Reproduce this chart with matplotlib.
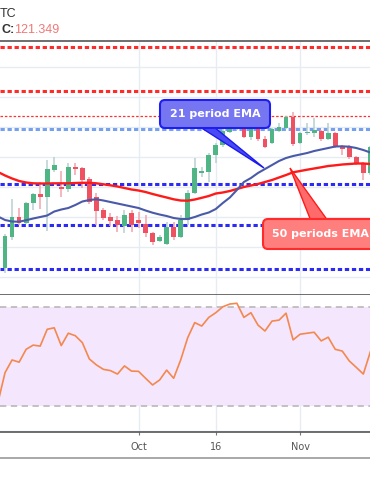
import matplotlib
matplotlib.use("Agg")
import matplotlib.pyplot as plt
import numpy as np
from matplotlib.patches import FancyBboxPatch, Polygon

# ---------------- data ----------------
opens = [117.300, 118.333, 119.000, 118.800, 119.467, 119.767, 119.667, 120.567, 120.000, 119.933,
         120.667, 120.633, 120.267, 119.667, 119.233, 119.000, 118.900, 118.700, 119.133, 118.900,
         118.767, 118.467, 118.200, 118.100, 118.667, 118.333, 118.900, 119.800, 120.467, 120.500,
         121.067, 121.400, 121.833, 121.967, 122.100, 121.667, 121.967, 121.600, 121.467, 121.867,
         121.967, 122.333, 121.467, 121.800, 121.800, 121.867, 121.600, 121.800, 121.333, 121.333,
         121.000, 120.767, 120.467]
highs = [118.433, 119.600, 119.300, 119.500, 119.800, 120.167, 120.900, 121.000, 120.533, 120.800,
         120.800, 120.667, 120.333, 119.800, 119.300, 119.133, 119.033, 119.233, 119.233, 119.167,
         119.067, 118.500, 118.400, 118.833, 118.833, 119.067, 119.900, 120.967, 120.667, 121.133,
         121.467, 121.967, 122.300, 122.300, 122.333, 122.033, 122.300, 121.700, 121.967, 122.133,
         122.367, 122.500, 121.833, 122.133, 122.300, 121.900, 122.133, 121.833, 121.400, 121.400,
         121.033, 120.833, 121.367]
lows = [117.133, 118.233, 118.733, 118.767, 119.233, 119.267, 118.533, 120.500, 119.667, 119.833,
        120.400, 119.967, 119.433, 118.733, 118.900, 118.700, 118.500, 118.467, 118.500, 118.633,
        118.333, 118.067, 118.167, 118.067, 118.233, 118.300, 118.733, 119.767, 120.333, 120.167,
        120.800, 121.333, 121.800, 121.900, 121.633, 121.567, 121.533, 121.300, 121.433, 121.833,
        121.933, 121.367, 121.433, 121.733, 121.667, 121.533, 121.567, 121.300, 121.067, 120.933,
        120.733, 120.233, 120.400]
closes = [118.367, 119.000, 118.800, 119.467, 119.767, 119.667, 120.600, 120.733, 119.933, 120.667,
          120.600, 120.233, 119.500, 119.200, 118.967, 118.867, 118.733, 119.067, 118.733, 118.800,
          118.467, 118.167, 118.333, 118.667, 118.333, 118.900, 119.800, 120.633, 120.533, 121.067,
          121.400, 121.867, 122.067, 122.100, 121.667, 121.967, 121.600, 121.333, 121.933, 122.000,
          122.333, 121.433, 121.800, 121.833, 121.900, 121.600, 121.800, 121.333, 121.267, 121.000,
          120.800, 120.467, 121.349]

# indicator values, bar index -1 .. 52
ema21 = [119.017, 118.900, 118.850, 118.843, 118.893, 118.950, 119.000, 119.050, 119.183, 119.250,
         119.300, 119.400, 119.517, 119.567, 119.590, 119.550, 119.500, 119.450, 119.400, 119.350,
         119.300, 119.217, 119.143, 119.083, 119.033, 118.967, 118.933, 118.933, 119.000, 119.083,
         119.150, 119.267, 119.467, 119.650, 119.900, 120.167, 120.300, 120.467, 120.600, 120.733,
         120.867, 120.967, 121.033, 121.083, 121.133, 121.200, 121.250, 121.300, 121.350, 121.357,
         121.343, 121.300, 121.233, 121.150]
ema50 = [120.500, 120.383, 120.283, 120.200, 120.150, 120.123, 120.117, 120.117, 120.123, 120.123,
         120.123, 120.133, 120.140, 120.140, 120.123, 120.090, 120.057, 120.017, 119.967, 119.917,
         119.883, 119.833, 119.767, 119.707, 119.650, 119.590, 119.550, 119.543, 119.583, 119.640,
         119.700, 119.783, 119.817, 119.867, 119.933, 120.000, 120.050, 120.100, 120.167, 120.233,
         120.317, 120.400, 120.490, 120.533, 120.577, 120.617, 120.657, 120.700, 120.723, 120.750,
         120.767, 120.783, 120.783, 120.767]
rsi = [31.6, 43.5, 48.6, 47.7, 52.9, 54.6, 54.2, 61.0, 61.6, 54.4,
       59.4, 58.4, 55.6, 49.0, 46.6, 44.8, 44.3, 42.9, 46.2, 44.1,
       44.0, 41.2, 38.5, 40.5, 44.5, 41.2, 48.6, 57.6, 63.7, 62.3,
       65.8, 67.7, 70.1, 71.2, 71.5, 65.8, 67.7, 62.7, 60.3, 64.3,
       64.7, 67.5, 56.7, 59.0, 59.4, 59.8, 56.3, 57.8, 52.9, 52.2,
       48.2, 45.6, 42.9, 51.9]
ind_index = list(range(-1, 53))

levels_red = [124.667, 123.2]
level_thin_red = 122.367
level_light_blue = 121.933
levels_blue = [120.1, 118.733, 117.267]
tick_pos = [19, 30, 42]
tick_labels = ["Oct", "16", "Nov"]
last_close_label = "121.349"

# ---------------- figure ----------------
W, H = 370, 493
fig = plt.figure(figsize=(W / 100, H / 100), dpi=100)
fig.patch.set_facecolor("white")

ax = fig.add_axes([0, 1 - 295 / H, 1, (295 - 41) / H])
rs = fig.add_axes([0, 1 - 432 / H, 1, (432 - 295) / H], sharex=ax)

xlim = (-0.72, 51.95)
ax.set_xlim(*xlim)
ax.set_ylim(116.4, 124.867)
rs.set_ylim(19.49, 74.85)

grid_c = "#e6ecf1"
for a in (ax, rs):
    a.set_facecolor("white")
    for s in ("left", "right"):
        a.spines[s].set_visible(False)
    a.tick_params(left=False, labelleft=False)
    for t in tick_pos:
        a.axvline(t, color=grid_c, lw=1.0, zorder=0)

for yv in range(117, 125):
    ax.axhline(yv, color=grid_c, lw=1.0, zorder=0)
for yv in (20, 40, 60):
    rs.axhline(yv, color=grid_c, lw=1.0, zorder=0)

ax.spines["top"].set_color("#555555")
ax.spines["top"].set_linewidth(1.2)
ax.spines["bottom"].set_color("#555555")
ax.spines["bottom"].set_linewidth(1.2)
ax.tick_params(bottom=False, labelbottom=False)
rs.spines["top"].set_visible(False)
rs.spines["bottom"].set_color("#555555")
rs.spines["bottom"].set_linewidth(1.2)

# levels
dash = (0, (1.4, 0.9))
for lv in levels_red:
    ax.axhline(lv, color="#ff2a2a", lw=2.2, ls=dash, zorder=2)
ax.axhline(level_thin_red, color="#ff3030", lw=0.9, ls=(0, (2, 1.5)), zorder=2)
ax.axhline(level_light_blue, color="#76a0ee", lw=2.2, ls=dash, zorder=2)
for lv in levels_blue:
    ax.axhline(lv, color="#2b2bf5", lw=2.2, ls=dash, zorder=2)

# candles
up_c, dn_c = "#4fb585", "#ee5261"
up_w, dn_w = "#b8d0d2", "#f2a3ad"
idx = np.arange(len(opens))
for i in idx:
    o, h, l, c = opens[i], highs[i], lows[i], closes[i]
    up = c >= o
    ax.vlines(i, l, h, color=up_w if up else dn_w, lw=1.1, zorder=3)
    bot = min(o, c)
    hgt = max(abs(c - o), 0.035)
    ax.bar(i, hgt, bottom=bot, width=0.68, color=up_c if up else dn_c,
           edgecolor="none", zorder=4)

# EMAs
ax.plot(ind_index, ema50, color="#ff1a1a", lw=1.7, zorder=5, solid_capstyle="round")
ax.plot(ind_index, ema21, color="#4a5aa8", lw=1.5, zorder=5, solid_capstyle="round")

# RSI panel
rs.axhspan(30, 70, color="#f3e6fd", zorder=0.5, lw=0)
for lv in (30, 70):
    rs.axhline(lv, color="#bdbdbd", lw=1.3, ls=(0, (3.5, 2.5)), zorder=1)
rs.plot(ind_index, rsi, color="#f4884e", lw=1.2, zorder=3)

rs.set_xticks(tick_pos)
rs.set_xticklabels(tick_labels)
rs.tick_params(axis="x", length=2.5, width=0.8, color="#777777", labelsize=7,
               labelcolor="#555555", pad=4.5)

# ---------------- overlay (annotations, header) ----------------
ov = fig.add_axes([0, 0, 1, 1], zorder=10)
ov.set_xlim(0, W)
ov.set_ylim(H, 0)
ov.set_axis_off()

ov.plot([0, W], [458, 458], color="#9a9a9a", lw=1.2)

ov.text(0, 17, "TC", fontsize=9, family="Liberation Sans", color="#333333", va="baseline")
ov.text(2, 33, "C:", fontsize=9, family="Liberation Sans", color="#333333", va="baseline",
        fontweight="bold")
ov.text(14, 33, last_close_label, fontsize=9, family="Liberation Sans", color="#f07878",
        va="baseline")

# 21 period EMA callout
ov.add_patch(Polygon([(200, 127), (214, 127), (264, 168)], closed=True,
                     facecolor="#4a4af5", edgecolor="#1a1aee", lw=1.0, zorder=2))
ov.add_patch(FancyBboxPatch((160, 100), 110, 28, boxstyle="round,pad=0,rounding_size=5",
                            facecolor="#7676f3", edgecolor="#1e1ef0", lw=1.5, zorder=3))
ov.text(215, 114, "21 period EMA", color="white", fontsize=8, fontweight="bold",
        ha="center", va="center", zorder=4)

# 50 periods EMA callout
ov.add_patch(Polygon([(290, 168), (311, 221), (328, 221)], closed=True,
                     facecolor="#ff6a6a", edgecolor="#ff1a1a", lw=1.0, zorder=2))
ov.add_patch(FancyBboxPatch((263, 219), 130, 30, boxstyle="round,pad=0,rounding_size=5",
                            facecolor="#ff7f7f", edgecolor="#ff2a2a", lw=1.5, zorder=3))
ov.text(272, 234, "50 periods EMA", color="white", fontsize=8, fontweight="bold",
        ha="left", va="center", zorder=4)

fig.savefig("out.png", dpi=100)
